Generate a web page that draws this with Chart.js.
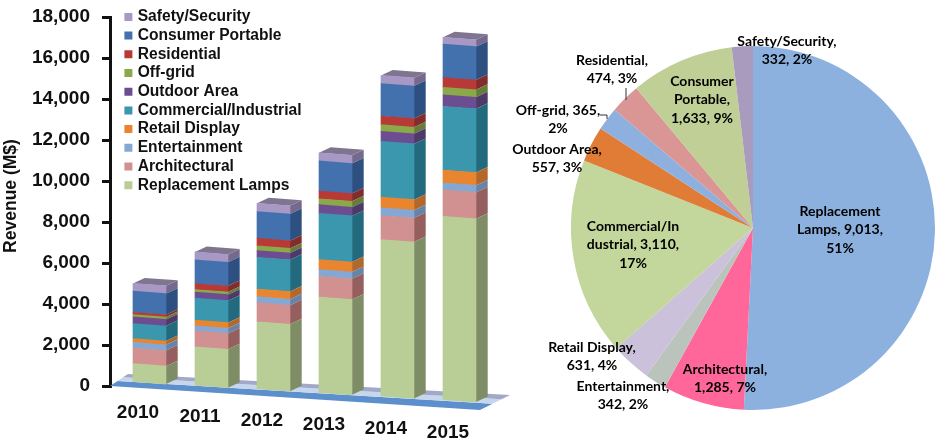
<!DOCTYPE html>
<html>
<head>
<meta charset="utf-8">
<title>LED revenue</title>
<script src="https://cdn.jsdelivr.net/npm/chart.js@4/dist/chart.umd.min.js"></script>
<style>
    html, body { margin: 0; padding: 0; background: #fff; }
    #wrap { position: relative; width: 942px; height: 446px; overflow: hidden; }
    canvas { position: absolute; top: 0; }
    #barChart { left: 0; }
    #pieChart { left: 500px; }
</style>
</head>
<body>
<div id="wrap">
    <canvas id="barChart" width="520" height="446"></canvas>
    <canvas id="pieChart" width="442" height="446"></canvas>
</div>
<script>
// Data
const years = ['2010', '2011', '2012', '2013', '2014', '2015'];
const yTicks = [0, 2000, 4000, 6000, 8000, 10000, 12000, 14000, 16000, 18000];

const replacementLamps = [945, 1940, 3340, 4725, 7700, 9013];
const architectural = [766, 780, 930, 1010, 1175, 1285];
const entertainment = [277, 245, 293, 326, 375, 342];
const retailDisplay = [180, 277, 375, 490, 520, 631];
const commercial = [733, 1075, 1550, 2250, 2720, 3110];
const outdoorArea = [326, 293, 326, 425, 490, 557];
const offGrid = [114, 130, 228, 290, 325, 365];
const residential = [114, 293, 375, 375, 425, 474];
const consumerPortable = [1027, 1157, 1300, 1470, 1580, 1633];
const safetySecurity = [380, 380, 400, 400, 400, 332];

const pieValues = [9013, 1285, 342, 631, 3110, 557, 365, 474, 1633, 332];
const pieNames = ['Replacement Lamps', 'Architectural', 'Entertainment', 'Retail Display', 'Commercial/Industrial',
    'Outdoor Area', 'Off-grid', 'Residential', 'Consumer Portable', 'Safety/Security'];
const pieColors = ['#8CB1DF', '#FF6699', '#BAC4BC', '#CCC1DA', '#C3D69B', '#E07C35', '#8EB0DF', '#D99694', '#BFCF95', '#A99BBD'];

// Label text, as broken in the reference, and where each one sits on the page
const pieLabelLines = [
    ['Replacement', 'Lamps, 9,013,', '51%'],
    ['Architectural,', '1,285, 7%'],
    ['Entertainment,', '342, 2%'],
    ['Retail Display,', '631, 4%'],
    ['Commercial/In', 'dustrial, 3,110,', '17%'],
    ['Outdoor Area,', '557, 3%'],
    ['Off-grid, 365,', '2%'],
    ['Residential,', '474, 3%'],
    ['Consumer', 'Portable,', '1,633, 9%'],
    ['Safety/Security,', '332, 2%']
];
const pieLabelPos = [[840, 211], [725, 369], [623, 386], [592, 347], [633, 226], [557, 149], [558, 110], [612, 60], [702, 81], [787, 41]];

// Bar styles, bottom of the stack first
const barSeries = [
    { label: 'Replacement Lamps', data: replacementLamps, front: '#B9CD96', side: '#7F8D67' },
    { label: 'Architectural', data: architectural, front: '#D29191', side: '#955F5F' },
    { label: 'Entertainment', data: entertainment, front: '#85A7D4', side: '#6684A8' },
    { label: 'Retail Display', data: retailDisplay, front: '#E9852F', side: '#B3682B' },
    { label: 'Commercial/Industrial', data: commercial, front: '#3A97AE', side: '#236A7E' },
    { label: 'Outdoor Area', data: outdoorArea, front: '#6D4D92', side: '#4E3A69' },
    { label: 'Off-grid', data: offGrid, front: '#8BA948', side: '#657C3A' },
    { label: 'Residential', data: residential, front: '#B83A37', side: '#842C2B' },
    { label: 'Consumer Portable', data: consumerPortable, front: '#4371AE', side: '#2D5080' },
    { label: 'Safety/Security', data: safetySecurity, front: '#A898C5', side: '#75698E' }
];

// Fake 3D settings for the bars
const barShiftX = 8.5;
const barShiftY0 = -1.7;
const barShiftYStep = 3.6;
const frontTilt = 0.075;
const depthX = 11.7;
const depthY = -5.5;
const lidColor = '#7F7590';

// Moves each bar along the tilted floor
const perspectivePlugin = {
    id: 'perspective',
    afterDatasetsUpdate(chart) {
        chart.data.datasets.forEach((ds, d) => {
            chart.getDatasetMeta(d).data.forEach((el, i) => {
                const shift = barShiftY0 + barShiftYStep * i;
                el.x += barShiftX;
                el.y += shift;
                el.base += shift;
            });
        });
    },
    afterLayout(chart) {
        chart.legend.left = 123.8;
        chart.legend.top = 6;
    },
    beforeDatasetsDraw(chart) {
        // floor
        const ctx = chart.ctx;
        const x0 = chart.chartArea.left;
        const y0 = chart.scales.y.getPixelForValue(0);
        const corners = [[x0, y0], [x0 + 370, y0 + 24], [x0 + 400, y0 + 9], [x0 + 18, y0 - 12]];
        const band = (t0, t1, color) => {
            const pt = (c1, c2, t) => [c1[0] + (c2[0] - c1[0]) * t, c1[1] + (c2[1] - c1[1]) * t];
            const a = pt(corners[0], corners[3], t0), b = pt(corners[1], corners[2], t0);
            const c = pt(corners[1], corners[2], t1), e = pt(corners[0], corners[3], t1);
            ctx.fillStyle = color;
            ctx.beginPath();
            ctx.moveTo(a[0], a[1]);
            ctx.lineTo(b[0], b[1]);
            ctx.lineTo(c[0], c[1]);
            ctx.lineTo(e[0], e[1]);
            ctx.closePath();
            ctx.fill();
        };
        band(0, 0.42, '#5C8FCB');
        band(0.42, 0.72, '#C6D6EC');
        band(0.72, 1, '#A2A9C8');
    },
    beforeDatasetDraw(chart, args) {
        // draw the element sheared, with its side and lid
        const ctx = chart.ctx;
        const last = chart.data.datasets.length - 1;
        const series = barSeries[args.index];
        args.meta.data.forEach(el => {
            const half = el.width / 2;
            const left = el.x - half, right = el.x + half;
            const topR = el.y + frontTilt * half, botR = el.base + frontTilt * half;
            const topL = el.y - frontTilt * half;

            ctx.fillStyle = series.side;
            ctx.beginPath();
            ctx.moveTo(right, topR);
            ctx.lineTo(right + depthX, topR + depthY);
            ctx.lineTo(right + depthX, botR + depthY);
            ctx.lineTo(right, botR);
            ctx.closePath();
            ctx.fill();

            if (args.index === last) {
                ctx.fillStyle = lidColor;
                ctx.beginPath();
                ctx.moveTo(left, topL);
                ctx.lineTo(right, topR);
                ctx.lineTo(right + depthX, topR + depthY);
                ctx.lineTo(left + depthX, topL + depthY);
                ctx.closePath();
                ctx.fill();
            }

            ctx.save();
            ctx.transform(1, frontTilt, 0, 1, 0, -frontTilt * el.x);
            el.draw(ctx, chart.chartArea);
            ctx.restore();
        });
        return false;
    },
    afterDraw(chart) {
        const ctx = chart.ctx;
        ctx.save();
        ctx.fillStyle = '#111';
        ctx.textAlign = 'center';
        ctx.textBaseline = 'middle';
        // year labels follow the tilted floor
        ctx.font = 'bold 19px "Liberation Sans"';
        years.forEach((year, i) => {
            ctx.fillText(year, chart.scales.x.getPixelForTick(i) - 3, 413 + 4 * i);
        });
        // axis title sits above the middle of the axis
        ctx.font = 'bold 17.5px "Liberation Sans"';
        ctx.translate(11, 196);
        ctx.rotate(-Math.PI / 2);
        ctx.fillText('Revenue (M$)', 0, 0);
        ctx.restore();
    }
};

new Chart(document.getElementById('barChart'), {
    type: 'bar',
    plugins: [perspectivePlugin],
    data: {
        labels: years,
        datasets: barSeries.map(s => ({
            label: s.label,
            data: s.data,
            backgroundColor: s.front,
            borderWidth: 0,
            barThickness: 33
        }))
    },
    options: {
        responsive: false,
        animation: false,
        layout: { padding: { top: 17, bottom: 52, right: 38 } },
        plugins: {
            tooltip: { enabled: false },
            legend: {
                position: 'chartArea',
                align: 'start',
                reverse: true,
                labels: {
                    boxWidth: 3,
                    boxHeight: 3,
                    padding: 3.1,
                    color: '#111',
                    font: { family: '"Liberation Sans"', size: 15.6, weight: 'bold' },
                    generateLabels(chart) {
                        return Chart.defaults.plugins.legend.labels.generateLabels(chart).map(item => ({
                            ...item,
                            lineWidth: 5,
                            strokeStyle: item.fillStyle
                        }));
                    }
                }
            }
        },
        scales: {
            x: {
                stacked: true,
                grid: { display: false },
                border: { display: false },
                ticks: { display: false }
            },
            y: {
                stacked: true,
                min: 0,
                max: 18000,
                afterFit(scale) {
                    scale.width = 110;
                    scale.paddingTop = 0;
                    scale.paddingBottom = 0;
                },
                afterBuildTicks(scale) { scale.ticks = yTicks.map(v => ({ value: v })); },
                border: { color: '#111', width: 3 },
                grid: { drawOnChartArea: false, color: '#111', lineWidth: 3, tickLength: 8 },
                ticks: {
                    padding: 12,
                    color: '#111',
                    font: { family: '"Liberation Sans"', size: 19, weight: 'bold' },
                    callback: v => v.toLocaleString('en-US')
                }
            }
        }
    }
});

// Pie labels and the two small leader lines
const pieLabelPlugin = {
    id: 'pieLabels',
    afterDraw(chart) {
        const ctx = chart.ctx;
        const pageLeft = 500;
        ctx.save();
        ctx.strokeStyle = '#333';
        ctx.lineWidth = 1;
        ctx.beginPath();
        ctx.moveTo(626 - pageLeft, 88);
        ctx.lineTo(626 - pageLeft, 100);
        ctx.moveTo(600 - pageLeft, 115);
        ctx.lineTo(607 - pageLeft, 115);
        ctx.lineTo(607 - pageLeft, 119);
        ctx.stroke();

        ctx.font = 'bold 14px Lato';
        ctx.fillStyle = '#000';
        ctx.textAlign = 'center';
        ctx.textBaseline = 'middle';
        pieLabelLines.forEach((lines, i) => {
            lines.forEach((line, n) => {
                ctx.fillText(line, pieLabelPos[i][0] - pageLeft, pieLabelPos[i][1] + n * 18.7);
            });
        });
        ctx.restore();
    }
};

new Chart(document.getElementById('pieChart'), {
    type: 'pie',
    plugins: [pieLabelPlugin],
    data: {
        labels: pieNames,
        datasets: [{
            data: pieValues,
            backgroundColor: pieColors,
            borderWidth: 0
        }]
    },
    options: {
        responsive: false,
        animation: false,
        layout: { padding: { left: 71, right: 7, top: 46, bottom: 36 } },
        plugins: {
            legend: { display: false },
            tooltip: { enabled: false }
        }
    }
});
</script>
</body>
</html>
